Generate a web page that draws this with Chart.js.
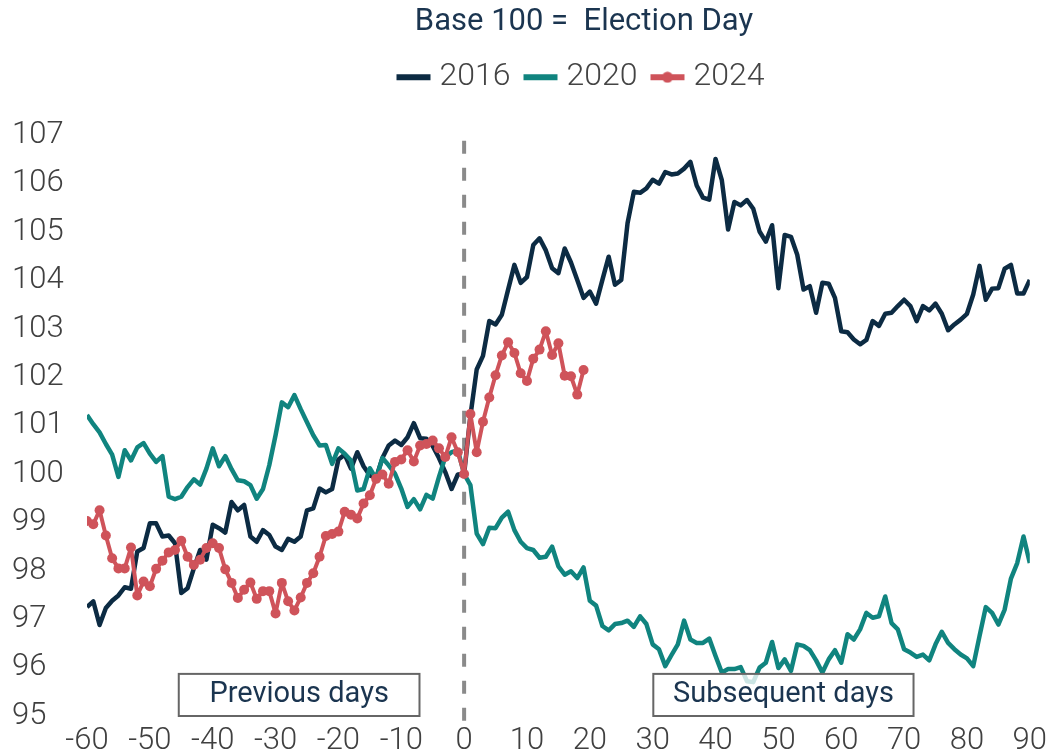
<!DOCTYPE html>
<html>
<head>
<meta charset="utf-8">
<script src="https://cdn.jsdelivr.net/npm/chart.js@4.4.1/dist/chart.umd.min.js"></script>
<style>
  html, body { margin: 0; padding: 0; background: #fff; }
  #wrap { width: 1054px; height: 754px; }
</style>
</head>
<body>
<div id="wrap"><canvas id="electionChart" width="1054" height="754"></canvas></div>
<script>
// days relative to election day
const daysFrom = -60;
const yTicks = [95, 96, 97, 98, 99, 100, 101, 102, 103, 104, 105, 106, 107];

const y2016 = [
  97.25, 97.37, 96.88, 97.23, 97.38, 97.49, 97.66, 97.63, 98.40, 98.47,
  98.98, 98.98, 98.71, 98.73, 98.57, 97.54, 97.64, 98.05, 98.43, 98.23,
  98.95, 98.88, 98.79, 99.42, 99.25, 99.36, 98.71, 98.60, 98.84, 98.74,
  98.50, 98.43, 98.66, 98.60, 98.71, 99.25, 99.29, 99.70, 99.62, 99.69,
  100.30, 100.40, 100.11, 100.45, 100.16, 99.97, 99.92, 100.33, 100.59, 100.69,
  100.60, 100.76, 101.05, 100.74, 100.73, 100.58, 100.33, 100.04, 99.69, 99.99,
  100.00,
  101.20, 102.16, 102.44, 103.16, 103.09, 103.29, 103.81, 104.32, 103.95, 104.07,
  104.73, 104.87, 104.62, 104.25, 104.15, 104.66, 104.37, 104.01, 103.64, 103.77,
  103.52, 104.01, 104.49, 103.91, 104.01, 105.18, 105.83, 105.81, 105.90, 106.08,
  106.00, 106.24, 106.19, 106.21, 106.31, 106.45, 105.96, 105.71, 105.67, 106.51,
  106.07, 105.05, 105.62, 105.55, 105.66, 105.48, 105.01, 104.80, 105.14, 103.84,
  104.94, 104.90, 104.53, 103.81, 103.88, 103.33, 103.95, 103.93, 103.64, 102.95,
  102.93, 102.78, 102.68, 102.77, 103.16, 103.06, 103.31, 103.33, 103.47, 103.60,
  103.47, 103.16, 103.47, 103.38, 103.52, 103.31, 102.97, 103.09, 103.19, 103.31,
  103.71, 104.30, 103.60, 103.83, 103.84, 104.24, 104.32, 103.73, 103.73, 104.01
];

const y2020 = [
  101.22, 101.03, 100.86, 100.62, 100.40, 99.94, 100.49, 100.28, 100.55, 100.64,
  100.42, 100.25, 100.37, 99.53, 99.48, 99.53, 99.73, 99.89, 99.78, 100.11,
  100.53, 100.16, 100.37, 100.10, 99.87, 99.85, 99.77, 99.49, 99.69, 100.18,
  100.80, 101.48, 101.38, 101.63, 101.34, 101.07, 100.80, 100.59, 100.60, 100.21,
  100.53, 100.42, 100.28, 99.66, 99.69, 100.12, 99.90, 100.33, 100.18, 100.01,
  99.70, 99.32, 99.48, 99.27, 99.57, 99.49, 99.94, 100.35, 100.45, 100.49,
  100.00,
  99.77, 98.77, 98.55, 98.89, 98.88, 99.10, 99.22, 98.84, 98.60, 98.47,
  98.43, 98.27, 98.29, 98.50, 98.09, 97.92, 97.99, 97.85, 98.07, 97.38,
  97.28, 96.86, 96.77, 96.90, 96.92, 96.97, 96.84, 97.06, 96.90, 96.48,
  96.38, 96.03, 96.26, 96.48, 96.97, 96.58, 96.51, 96.51, 96.60, 96.24,
  95.90, 95.97, 95.97, 96.01, 95.72, 95.70, 96.00, 96.10, 96.53, 95.99,
  96.17, 95.93, 96.48, 96.45, 96.36, 96.15, 95.90, 96.17, 96.36, 96.10,
  96.69, 96.58, 96.79, 97.13, 97.03, 97.06, 97.47, 96.92, 96.79, 96.38,
  96.31, 96.22, 96.27, 96.15, 96.48, 96.74, 96.51, 96.38, 96.27, 96.19,
  96.03, 96.65, 97.25, 97.13, 96.89, 97.20, 97.84, 98.16, 98.71, 98.16
];

const y2024 = [
  99.03, 98.96, 99.25, 98.73, 98.26, 98.05, 98.05, 98.48, 97.49, 97.78,
  97.68, 98.04, 98.21, 98.38, 98.43, 98.62, 98.29, 98.12, 98.23, 98.47,
  98.57, 98.47, 98.03, 97.75, 97.44, 97.61, 97.76, 97.42, 97.58, 97.58,
  97.12, 97.75, 97.37, 97.18, 97.45, 97.75, 97.95, 98.29, 98.72, 98.76,
  98.81, 99.22, 99.16, 99.08, 99.39, 99.56, 99.90, 99.99, 99.80, 100.25,
  100.30, 100.49, 100.26, 100.59, 100.62, 100.69, 100.53, 100.35, 100.76, 100.45,
  100.00,
  101.24, 100.45, 101.08, 101.58, 102.04, 102.45, 102.72, 102.50, 102.08, 101.92,
  102.38, 102.57, 102.95, 102.46, 102.70, 102.03, 102.02, 101.64, 102.15
];

const seriesNames = ["2016", "2020", "2024"];
const seriesColors = ["#0c2b43", "#10847f", "#cf535a"];
const noteLabels = ["Previous days", "Subsequent days"];
const noteSpans = [[-45.4, -7.1], [30.1, 71.5]];

function toPoints(values) {
  return values.map((v, i) => ({ x: daysFrom + i, y: v }));
}

// small canvases used as legend symbols (line, line with dot)
function legendIcon(color, dot) {
  const c = document.createElement("canvas");
  c.width = 36; c.height = 12;
  const g = c.getContext("2d");
  g.fillStyle = color;
  g.fillRect(1, 3, 34, 6);
  if (dot) {
    g.beginPath();
    g.arc(18, 6, 5.5, 0, Math.PI * 2);
    g.fill();
  }
  return c;
}
const legendIcons = [
  legendIcon(seriesColors[0], false),
  legendIcon(seriesColors[1], false),
  legendIcon(seriesColors[2], true)
];

// boxes "Previous days" / "Subsequent days"
const notesPlugin = {
  id: "notes",
  afterDatasetsDraw(chart) {
    const { ctx, scales } = chart;
    const x = scales.x, y = scales.y;
    ctx.save();
    noteLabels.forEach((txt, i) => {
      const x0 = x.getPixelForValue(noteSpans[i][0]);
      const x1 = x.getPixelForValue(noteSpans[i][1]);
      const y0 = y.getPixelForValue(95.87);
      const y1 = y.getPixelForValue(95);
      ctx.fillStyle = "rgba(255,255,255,0.78)";
      ctx.fillRect(x0, y0, x1 - x0, y1 - y0);
      ctx.strokeStyle = "#666666";
      ctx.lineWidth = 2;
      ctx.strokeRect(x0, y0, x1 - x0, y1 - y0);
      ctx.fillStyle = "#1b3550";
      ctx.font = "400 29px Roboto";
      ctx.textAlign = "center";
      ctx.textBaseline = "middle";
      ctx.fillText(txt, (x0 + x1) / 2, (y0 + y1) / 2);
    });
    ctx.restore();
  }
};

// move title + legend to the right, like the original
const shiftPlugin = {
  id: "shiftTop",
  afterLayout(chart) {
    const target = 584;
    const t = chart.titleBlock;
    if (t) {
      const d = target - (t.left + t.right) / 2;
      t.left += d; t.right += d;
    }
    const l = chart.legend;
    if (l) {
      const d = target - (l.left + l.right) / 2;
      l.left += d; l.right += d;
    }
  }
};

const ctx = document.getElementById("electionChart").getContext("2d");
const chart = new Chart(ctx, {
  type: "line",
  data: {
    datasets: [
      {
        label: seriesNames[0],
        data: toPoints(y2016),
        borderColor: seriesColors[0],
        backgroundColor: seriesColors[0],
        borderWidth: 4.5,
        pointRadius: 0,
        tension: 0,
        borderJoinStyle: "round",
        order: 2
      },
      {
        label: seriesNames[1],
        data: toPoints(y2020),
        borderColor: seriesColors[1],
        backgroundColor: seriesColors[1],
        borderWidth: 4.5,
        pointRadius: 0,
        tension: 0,
        borderJoinStyle: "round",
        order: 1
      },
      {
        label: seriesNames[2],
        data: toPoints(y2024),
        borderColor: seriesColors[2],
        backgroundColor: seriesColors[2],
        borderWidth: 4,
        pointRadius: 5,
        pointBorderWidth: 0,
        pointBackgroundColor: seriesColors[2],
        tension: 0,
        borderJoinStyle: "round",
        order: 0
      },
      {
        // election day divider
        label: "",
        data: [{ x: 0, y: 94.9 }, { x: 0, y: 107.1 }],
        borderColor: "#8a8a8a",
        borderWidth: 4,
        borderDash: [13, 14],
        pointRadius: 0,
        clip: false,
        order: 3
      }
    ]
  },
  options: {
    responsive: false,
    devicePixelRatio: 1,
    animation: false,
    layout: { padding: { left: 12, right: 21, top: 0, bottom: 0 } },
    plugins: {
      tooltip: { enabled: false },
      title: {
        display: true,
        text: "Base 100 =  Election Day",
        color: "#1b3550",
        font: { family: "Roboto", size: 31, weight: "400" },
        padding: { top: 4, bottom: 0 }
      },
      // empty spacer between legend and plot
      subtitle: {
        display: true,
        text: " ",
        weight: 500,
        font: { size: 10 },
        padding: { top: 10, bottom: 10 }
      },
      legend: {
        display: true,
        labels: {
          usePointStyle: true,
          pointStyleWidth: 20,
          padding: 20,
          color: "#444444",
          font: { family: "Roboto", size: 32, weight: "300" },
          sort: (a, b) => a.datasetIndex - b.datasetIndex,
          generateLabels(c) {
            const items = Chart.defaults.plugins.legend.labels.generateLabels(c);
            return items
              .filter(it => it.text)
              .map(it => Object.assign(it, { pointStyle: legendIcons[it.datasetIndex] }));
          }
        }
      }
    },
    scales: {
      x: {
        type: "linear",
        min: -60,
        max: 90,
        grid: { display: false, drawTicks: false },
        border: { display: false },
        ticks: {
          stepSize: 10,
          padding: 7,
          color: "#404040",
          font: { family: "Roboto", size: 31, weight: "300" },
          maxRotation: 0
        },
        afterFit(scale) { scale.height = 38; }
      },
      y: {
        min: 95,
        max: 107,
        grid: { display: false, drawTicks: false },
        border: { display: false },
        afterBuildTicks(scale) { scale.ticks = yTicks.map(v => ({ value: v })); },
        ticks: {
          crossAlign: "far",
          color: "#404040",
          font: { family: "Roboto", size: 31, weight: "300" }
        },
        afterFit(scale) { scale.width = 75; }
      }
    }
  },
  plugins: [notesPlugin, shiftPlugin]
});
</script>
</body>
</html>
